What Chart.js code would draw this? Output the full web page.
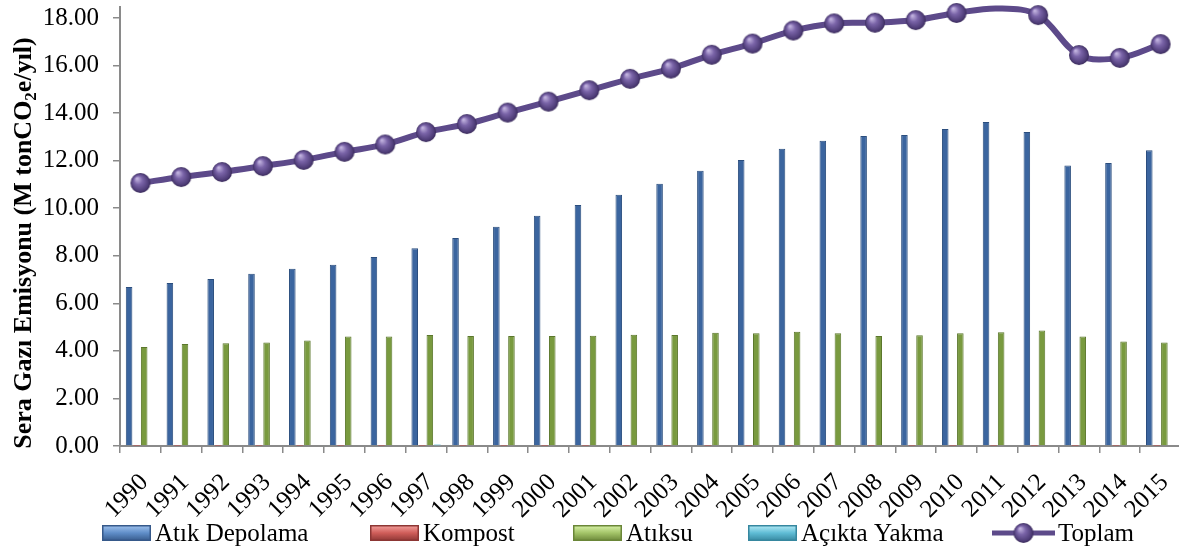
<!DOCTYPE html>
<html><head><meta charset="utf-8">
<script src="https://cdn.jsdelivr.net/npm/chart.js@4.4.1/dist/chart.umd.min.js"></script>
<style>html,body{margin:0;padding:0;overflow:hidden;background:#fff}canvas{display:block}</style>
</head><body>
<canvas id="c" width="1181" height="549"></canvas>
<script>
const years = ['1990','1991','1992','1993','1994','1995','1996','1997','1998','1999','2000','2001','2002','2003','2004','2005','2006','2007','2008','2009','2010','2011','2012','2013','2014','2015'];
const atikDepolama = [6.69,6.85,7.02,7.24,7.45,7.62,7.95,8.32,8.75,9.22,9.68,10.13,10.57,11.03,11.57,12.03,12.5,12.84,13.04,13.08,13.33,13.62,13.2,11.8,11.9,12.44];
const kompost = [0.01,0.01,0.01,0.01,0.01,0.01,0.01,0.01,0.01,0.01,0.01,0.01,0.01,0.01,0.01,0.01,0.01,0.01,0.01,0.01,0.01,0.01,0.01,0.01,0.01,0.01];
const atiksu = [4.16,4.29,4.32,4.35,4.44,4.6,4.6,4.67,4.63,4.63,4.63,4.64,4.68,4.67,4.76,4.74,4.8,4.74,4.63,4.66,4.74,4.78,4.86,4.6,4.39,4.35];
const aciktaYakma = [0,0,0,0,0,0,0,0.06,0,0,0,0,0,0,0,0,0,0,0,0,0,0,0,0,0,0];
const toplam = [11.06,11.31,11.52,11.77,12.03,12.37,12.68,13.2,13.54,14.02,14.48,14.96,15.44,15.87,16.45,16.92,17.47,17.77,17.8,17.91,18.21,18.4,18.12,16.44,16.32,16.9];
const yTicks = [0,2,4,6,8,10,12,14,16,18];
const hiddenMarkers = ['2011'];
const seriesNames = ['Atık Depolama','Kompost','Atıksu','Açıkta Yakma','Toplam'];
const yTitleParts = ['Sera Gazı Emisyonu (M tonCO','2','e/yıl)'];

const FONT = '"Liberation Serif","Times New Roman",serif';

function sphere(r){
  const c=document.createElement('canvas'); c.width=c.height=2*r+2;
  const g=c.getContext('2d'); const m=r+1;
  const grad=g.createRadialGradient(m-r*0.35,m-r*0.45,r*0.05,m,m,r);
  grad.addColorStop(0,'#c3b4e0'); grad.addColorStop(0.4,'#7a64a8'); grad.addColorStop(0.85,'#4f3d78'); grad.addColorStop(1,'#3a2b5a');
  g.fillStyle=grad; g.beginPath(); g.arc(m,m,r,0,Math.PI*2); g.fill();
  return c;
}
const ball = sphere(10);

const legendX = [102,370,573,748,992];
const legendPlugin = {
  id:'customLegend',
  afterDraw(chart){
    const ctx=chart.ctx; const yc=533;
    ctx.save();
    ctx.font='25px '+FONT; ctx.fillStyle='#000'; ctx.textBaseline='middle'; ctx.textAlign='left';
    chart.data.datasets.forEach((ds,i)=>{
      const x=legendX[i];
      if(ds.type==='line'){
        ctx.strokeStyle=ds.borderColor; ctx.lineWidth=5;
        ctx.beginPath(); ctx.moveTo(x,yc); ctx.lineTo(x+63,yc); ctx.stroke();
        ctx.drawImage(ball,x+31.5-ball.width/2,yc-ball.height/2);
        ctx.fillText(ds.label,x+66,yc+1);
      } else {
        const w=49,h=16; const g=ctx.createLinearGradient(0,yc-h/2,0,yc+h/2);
        g.addColorStop(0,ds.legendLight); g.addColorStop(0.5,ds.legendMid); g.addColorStop(1,ds.legendDark);
        ctx.fillStyle=g; ctx.fillRect(x,yc-h/2,w,h);
        ctx.strokeStyle=ds.legendDark; ctx.lineWidth=1.5; ctx.strokeRect(x+0.75,yc-h/2+0.75,w-1.5,h-1.5);
        ctx.fillStyle='#000'; ctx.fillText(ds.label,x+w+4,yc+1);
      }
    });
    // y axis title with real subscript
    ctx.translate(22,243); ctx.rotate(-Math.PI/2);
    const big='bold 26px '+FONT, small='bold 17px '+FONT;
    ctx.font=big; const w0=ctx.measureText(yTitleParts[0]).width, w2=ctx.measureText(yTitleParts[2]).width;
    ctx.font=small; const w1=ctx.measureText(yTitleParts[1]).width;
    let x=-(w0+w1+w2)/2;
    ctx.textAlign='left'; ctx.textBaseline='alphabetic';
    ctx.font=big; ctx.fillText(yTitleParts[0],x,9); x+=w0;
    ctx.font=small; ctx.fillText(yTitleParts[1],x,14); x+=w1;
    ctx.font=big; ctx.fillText(yTitleParts[2],x,9);
    ctx.restore();
  }
};

new Chart(document.getElementById('c'),{
  data:{
    labels:years,
    datasets:[
      {type:'bar',label:seriesNames[0],data:atikDepolama,backgroundColor:'#3b659f',borderColor:'#2b4e7e',borderWidth:1,order:1,legendLight:'#a4c6f0',legendMid:'#5f8dc8',legendDark:'#36598a'},
      {type:'bar',label:seriesNames[1],data:kompost,backgroundColor:'#c0504d',borderColor:'#8c3836',borderWidth:0,order:1,legendLight:'#f6a5a2',legendMid:'#cf5d59',legendDark:'#8c3634'},
      {type:'bar',label:seriesNames[2],data:atiksu,backgroundColor:'#799a3f',borderColor:'#5b772c',borderWidth:1,order:1,legendLight:'#dcf5ad',legendMid:'#a3c468',legendDark:'#6a8638'},
      {type:'bar',label:seriesNames[3],data:aciktaYakma,backgroundColor:'#6cc0d8',borderColor:'#4a9fb8',borderWidth:0,order:1,legendLight:'#b9edf8',legendMid:'#5fbcd5',legendDark:'#36879f'},
      {type:'line',label:seriesNames[4],data:toplam,borderColor:'#5d4a8a',borderWidth:6,tension:0.35,clip:false,order:0,
       pointStyle:ball,pointRadius:c=>hiddenMarkers.includes(years[c.dataIndex])?0:10,pointHoverRadius:10}
    ]
  },
  options:{
    responsive:false,animation:false,
    layout:{autoPadding:false,padding:{top:7,bottom:23,left:0,right:0}},
    datasets:{bar:{categoryPercentage:0.74,barPercentage:0.87}},
    plugins:{legend:{display:false},tooltip:{enabled:false}},
    scales:{
      x:{
        grid:{offset:true,drawOnChartArea:false,drawTicks:true,tickLength:7,color:'#8a8a8a',lineWidth:1.5},
        border:{display:true,color:'#8a8a8a',width:2},
        ticks:{font:{family:FONT,size:25},color:'#000',minRotation:45,maxRotation:45,padding:15,labelOffset:4,autoSkip:false},
        afterFit:s=>{s.height=80;s.paddingLeft=0;s.paddingRight=0;}
      },
      y:{
        min:0,max:18.46,
        afterBuildTicks:s=>{s.ticks=yTicks.map(v=>({value:v}));},
        grid:{drawOnChartArea:false,drawTicks:true,tickLength:7,color:'#8a8a8a',lineWidth:1.5},
        border:{display:true,color:'#8a8a8a',width:2},
        ticks:{font:{family:FONT,size:25},color:'#000',padding:14,callback:v=>Number(v).toFixed(2)},
        title:{display:false},
        afterFit:s=>{s.width=120;s.paddingTop=0;s.paddingBottom=0;}
      }
    }
  },
  plugins:[legendPlugin]
});
</script>
</body></html>
